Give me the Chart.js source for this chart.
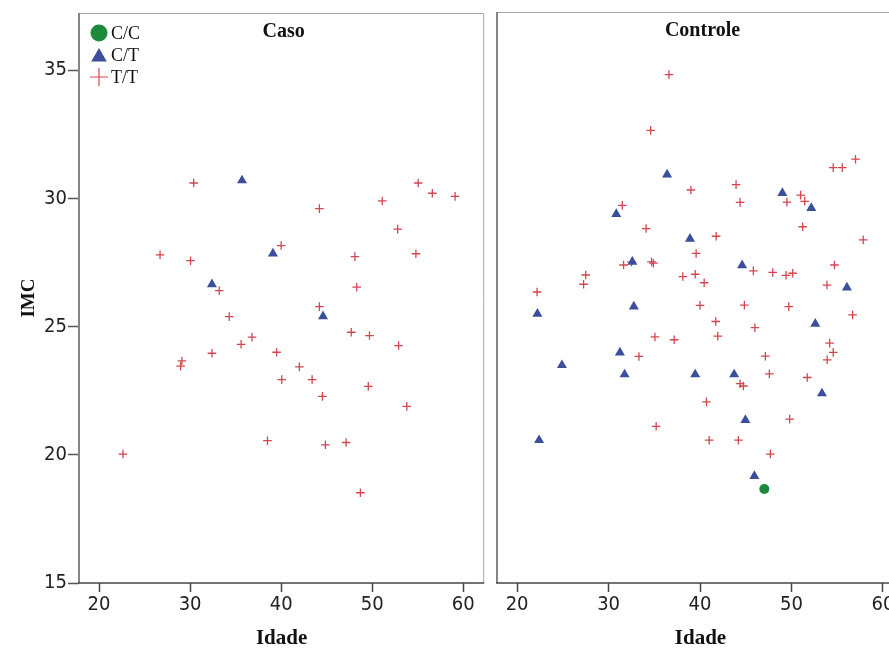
<!DOCTYPE html>
<html>
<head>
<meta charset="utf-8">
<script src="https://cdn.jsdelivr.net/npm/chart.js@4.4.1/dist/chart.umd.min.js"></script>
<style>
  html, body { margin: 0; padding: 0; background: #fff; overflow: hidden; }
  body { width: 889px; height: 652px; position: relative; }
  .panel { position: absolute; top: 0; height: 652px; }
  #casoWrap { left: 0; width: 490px; }
  #controleWrap { left: 490px; width: 420px; }
</style>
</head>
<body>
<div class="panel" id="casoWrap"><canvas id="casoChart"></canvas></div>
<div class="panel" id="controleWrap"><canvas id="controleChart"></canvas></div>
<script>
// [Idade, IMC] pairs
const casoCC = [];
const casoCT = [[35.7, 30.7], [39.1, 27.85], [32.4, 26.65], [44.6, 25.4]];
const casoTT = [
  [30.4, 30.6], [44.2, 29.6], [55.05, 30.6], [56.6, 30.2], [59.1, 30.08],
  [51.1, 29.9], [52.8, 28.8], [54.8, 27.84], [26.7, 27.8], [30.05, 27.57],
  [40.0, 28.16], [48.1, 27.73], [48.3, 26.54], [33.2, 26.4], [34.3, 25.39],
  [44.2, 25.78], [47.7, 24.78], [49.7, 24.65], [52.9, 24.26], [36.8, 24.59],
  [35.6, 24.31], [32.4, 23.96], [39.5, 24.0], [29.1, 23.66], [28.96, 23.46],
  [42.0, 23.43], [40.07, 22.93], [43.4, 22.93], [49.57, 22.67], [44.53, 22.28],
  [53.8, 21.89], [38.5, 20.55], [44.86, 20.39], [47.13, 20.48], [22.63, 20.03],
  [48.7, 18.52]
];

const controleCC = [[47.03, 18.66]];
const controleCT = [
  [36.4, 30.9], [49.0, 30.18], [52.16, 29.6], [30.84, 29.36], [38.9, 28.4],
  [32.6, 27.5], [44.6, 27.37], [56.06, 26.5], [22.22, 25.48], [32.76, 25.76],
  [52.6, 25.09], [31.24, 23.97], [24.9, 23.48], [31.75, 23.12], [39.47, 23.12],
  [43.73, 23.12], [53.33, 22.38], [44.96, 21.34], [22.4, 20.56], [45.94, 19.16]
];
const controleTT = [
  [36.6, 34.79], [34.6, 32.62], [57.0, 31.5], [54.56, 31.17], [55.55, 31.17],
  [43.94, 30.51], [39.0, 30.3], [51.0, 30.1], [49.5, 29.83], [51.44, 29.86],
  [44.38, 29.82], [31.5, 29.7], [51.22, 28.87], [34.1, 28.8], [41.76, 28.5],
  [57.84, 28.36], [39.57, 27.83], [31.64, 27.38], [32.5, 27.5], [34.7, 27.5],
  [34.9, 27.45], [45.83, 27.15], [47.95, 27.09], [49.4, 26.98], [50.13, 27.06],
  [54.7, 27.38], [27.5, 26.99], [27.27, 26.63], [38.12, 26.93], [39.47, 27.02],
  [40.45, 26.69], [53.88, 26.6], [22.18, 26.33], [40.0, 25.81], [44.85, 25.82],
  [49.7, 25.76], [56.68, 25.44], [41.72, 25.18], [46.0, 24.94], [35.07, 24.58],
  [37.17, 24.47], [41.94, 24.61], [54.17, 24.34], [54.56, 23.98], [53.9, 23.69],
  [33.32, 23.82], [47.14, 23.83], [47.58, 23.14], [51.72, 23.0], [44.38, 22.76],
  [44.74, 22.67], [40.7, 22.05], [49.8, 21.38], [35.2, 21.1], [41.0, 20.56],
  [44.2, 20.56], [47.69, 20.02]
];

const genotypes = ["C/C", "C/T", "T/T"];
const xTicks = [20, 30, 40, 50, 60];
const yTicks = [15, 20, 25, 30, 35];

const GREEN = "#1b8a3c";
const BLUE = "#3b4f9c";
const RED = "#d4464f";
const tickFont = { family: "'Liberation Sans Narrow', 'DejaVu Sans Condensed', sans-serif", size: 20 };
const serif = "'Liberation Serif', 'Times New Roman', serif";

const toPoints = (pairs) => pairs.map(([x, y]) => ({ x, y }));

const markerStyles = [
  { style: "circle", color: GREEN, fill: true },
  { style: "triangle", color: BLUE, fill: true },
  { style: "cross", color: RED, fill: false }
];

// frame round the plot area
const framePlugin = {
  id: "frame",
  beforeDatasetsDraw(chart) {
    const { ctx, chartArea: a } = chart;
    ctx.save();
    ctx.strokeStyle = "#a8a8a8";
    ctx.lineWidth = 1;
    ctx.beginPath();
    ctx.moveTo(a.left, a.top + 0.5);
    ctx.lineTo(a.right - 0.5, a.top + 0.5);
    ctx.lineTo(a.right - 0.5, a.bottom);
    ctx.stroke();
    ctx.strokeStyle = "#858585";
    ctx.lineWidth = 2;
    ctx.beginPath();
    ctx.moveTo(a.left, a.top);
    ctx.lineTo(a.left, a.bottom);
    ctx.stroke();
    ctx.strokeStyle = "#454545";
    ctx.lineWidth = 1.5;
    ctx.beginPath();
    ctx.moveTo(a.left - 1, a.bottom);
    ctx.lineTo(a.right, a.bottom);
    ctx.stroke();
    ctx.restore();
  }
};

const panelTitlePlugin = {
  id: "panelTitle",
  afterDraw(chart, args, opts) {
    const { ctx, chartArea: a } = chart;
    ctx.save();
    ctx.font = "bold 20px " + serif;
    ctx.fillStyle = "#111";
    ctx.textAlign = "center";
    ctx.textBaseline = "middle";
    ctx.fillText(opts.text, (a.left + a.right) / 2 + 2, a.top + 19);
    ctx.restore();
  }
};

const innerLegendPlugin = {
  id: "innerLegend",
  afterDraw(chart, args, opts) {
    if (!opts.show) return;
    const { ctx, chartArea: a } = chart;
    const sizes = [8.5, 9, 9];
    ctx.save();
    genotypes.forEach((label, i) => {
      const m = markerStyles[i];
      const cx = a.left + 20;
      const cy = a.top + 20 + i * 22;
      ctx.fillStyle = m.color;
      ctx.strokeStyle = m.color;
      ctx.lineWidth = m.fill ? 0 : 1.2;
      Chart.helpers.drawPoint(ctx, {
        pointStyle: m.style, radius: sizes[i], rotation: 0, borderWidth: m.fill ? 0 : 1.2
      }, cx, cy + (m.style === "triangle" ? 2 : 0));
      ctx.font = "18px " + serif;
      ctx.fillStyle = "#111";
      ctx.textAlign = "left";
      ctx.textBaseline = "middle";
      ctx.fillText(label, cx + 12, cy + 1);
    });
    ctx.restore();
  }
};

function buildDatasets(cc, ct, tt) {
  const series = [cc, ct, tt];
  const radii = [5, 5.8, 4.3];
  return genotypes.map((label, i) => ({
    label,
    data: toPoints(series[i]),
    pointStyle: markerStyles[i].style,
    pointRadius: radii[i],
    pointBackgroundColor: markerStyles[i].color,
    pointBorderColor: markerStyles[i].color,
    pointBorderWidth: markerStyles[i].fill ? 0 : 1.3,
    showLine: false
  }));
}

function makeChart(canvasId, title, cc, ct, tt, isFirst) {
  return new Chart(document.getElementById(canvasId), {
    type: "scatter",
    data: { datasets: buildDatasets(cc, ct, tt) },
    plugins: [framePlugin, panelTitlePlugin, innerLegendPlugin],
    options: {
      responsive: true,
      maintainAspectRatio: false,
      animation: false,
      layout: {
        padding: isFirst
          ? { top: 12, right: 5, left: 0, bottom: 0 }
          : { top: 12, right: 6, left: 7, bottom: 0 }
      },
      plugins: {
        legend: { display: false },
        tooltip: { enabled: false },
        panelTitle: { text: title },
        innerLegend: { show: isFirst }
      },
      scales: {
        x: {
          type: "linear",
          min: 17.8,
          max: 62.3,
          afterBuildTicks: (axis) => { axis.ticks = xTicks.map((v) => ({ value: v })); },
          afterFit: (axis) => { axis.height = 69; },
          border: { display: false },
          grid: {
            drawOnChartArea: false,
            drawTicks: true,
            tickLength: 9,
            tickColor: "#454545",
            tickWidth: 1.5
          },
          ticks: { font: tickFont, color: "#222", padding: 1, maxRotation: 0 },
          title: {
            display: true,
            text: "Idade",
            font: { family: serif, size: 21, weight: "bold" },
            color: "#111",
            padding: { top: 0, bottom: 1 }
          }
        },
        y: {
          type: "linear",
          display: isFirst,
          min: 15,
          max: 37.23,
          afterBuildTicks: (axis) => { axis.ticks = yTicks.map((v) => ({ value: v })); },
          afterFit: (axis) => { axis.width = isFirst ? 79 : 0; },
          border: { display: false },
          grid: {
            drawOnChartArea: false,
            drawTicks: true,
            tickLength: 11,
            tickColor: "#555",
            tickWidth: 1.5
          },
          ticks: { font: tickFont, color: "#222", padding: 1 },
          title: {
            display: true,
            text: "IMC",
            font: { family: serif, size: 19, weight: "bold" },
            color: "#111",
            padding: { top: 18, bottom: 0 }
          }
        }
      }
    }
  });
}

makeChart("casoChart", "Caso", casoCC, casoCT, casoTT, true);
makeChart("controleChart", "Controle", controleCC, controleCT, controleTT, false);
</script>
</body>
</html>
